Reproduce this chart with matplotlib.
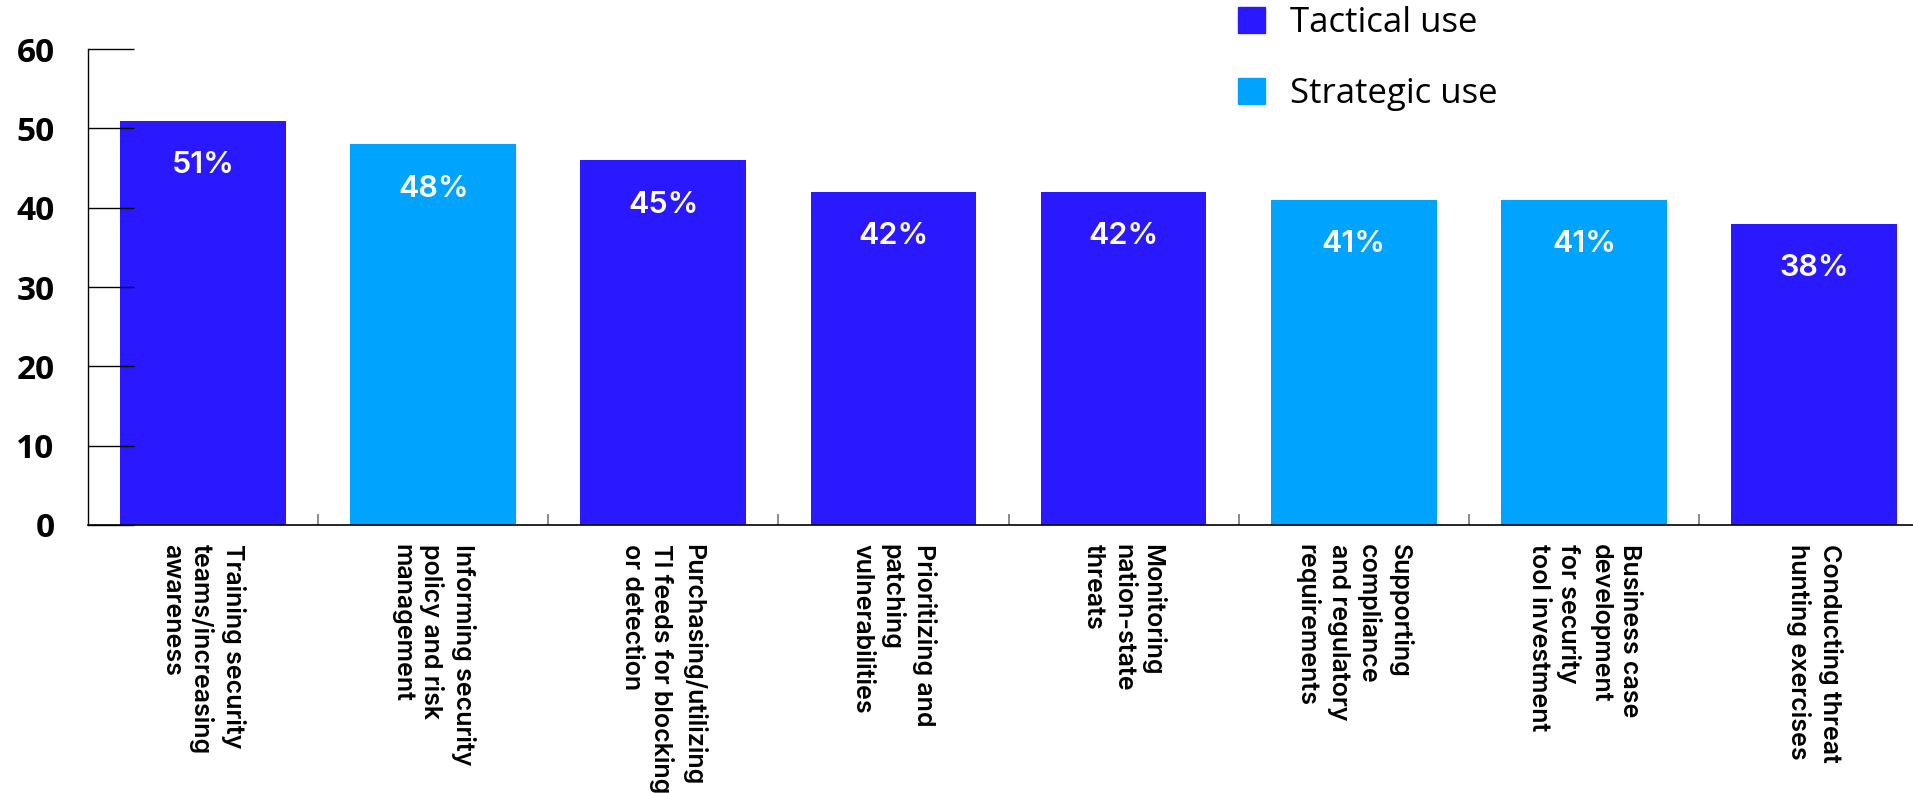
import matplotlib
matplotlib.use("Agg")
import matplotlib.pyplot as plt
from matplotlib.patches import Patch
import numpy as np

categories = ["Training security\nteams/increasing\nawareness",
              "Informing security\npolicy and risk\nmanagement",
              "Purchasing/utilizing\nTI feeds for blocking\nor detection",
              "Prioritizing and\npatching\nvulnerabilities",
              "Monitoring\nnation-state\nthreats",
              "Supporting\ncompliance\nand regulatory\nrequirements",
              "Business case\ndevelopment\nfor security\ntool investment",
              "Conducting threat\nhunting exercises"]
# bar heights as drawn (the 45% bar is drawn at 46 in the original)
heights = [51, 48, 46, 42, 42, 41, 41, 38]
pct_labels = ["51%", "48%", "45%", "42%", "42%", "41%", "41%", "38%"]
use_type = ["Tactical use", "Strategic use", "Tactical use", "Tactical use",
            "Tactical use", "Strategic use", "Strategic use", "Tactical use"]
y_ticks = [0, 10, 20, 30, 40, 50, 60]

colors = {"Tactical use": "#2A18FF", "Strategic use": "#00A4FF"}

fig = plt.figure(figsize=(19.13, 7.93), dpi=100)
ax = fig.add_axes([0.046, 0.338, 0.954, 0.6])

x = np.arange(len(categories))
ax.bar(x, heights, width=0.72, color=[colors[u] for u in use_type])

# percentage labels inside the bars
for xi, h, lab in zip(x, heights, pct_labels):
    ax.annotate(lab, xy=(xi, h), xytext=(0, -32), textcoords="offset points",
                ha="center", va="center", color="white", fontsize=22,
                family="Inter", weight="semibold")

ax.set_xlim(-0.5, 7.43)
ax.set_ylim(0, 60)
ax.set_yticks(y_ticks)
ax.set_yticklabels([str(t) for t in y_ticks], fontsize=24, family="Open Sans", weight="bold")
ax.tick_params(axis="y", direction="in", length=33, width=1, color="black", pad=24)

ax.set_xticks(x)
ax.set_xticklabels(categories, rotation=270, ha="center", va="top", multialignment="left",
                   fontsize=18, family="Inter", weight="semibold", linespacing=1.35)
ax.tick_params(axis="x", length=0, pad=14)
ax.set_xticks(x[:-1] + 0.5, minor=True)
ax.tick_params(axis="x", which="minor", direction="in", length=8, width=1.2, color="#777777")

for s in ["top", "right"]:
    ax.spines[s].set_visible(False)
ax.spines["left"].set_linewidth(1)
ax.spines["bottom"].set_linewidth(1.2)

handles = [Patch(color=colors["Tactical use"], label="Tactical use"),
           Patch(color=colors["Strategic use"], label="Strategic use")]
fig.legend(handles=handles, loc="upper left", bbox_to_anchor=(0.647, 0.992), frameon=False,
           prop={"family": "Open Sans", "size": 25},
           handlelength=0.78, handleheight=0.78, handletextpad=0.72, labelspacing=1.05,
           borderpad=0, borderaxespad=0)

plt.savefig("out.png", dpi=100)
